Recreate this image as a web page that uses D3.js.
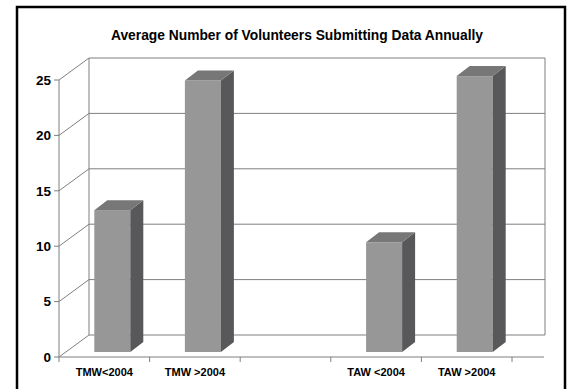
<!DOCTYPE html>
<html>
<head>
<meta charset="utf-8">
<script src="https://cdn.jsdelivr.net/npm/d3@7"></script>
<style>
  html, body { margin: 0; padding: 0; background: #fff; }
  svg { display: block; }
  text { font-family: "Liberation Sans", Arial, sans-serif; font-weight: bold; fill: #000; }
</style>
</head>
<body>
<svg id="chart" width="571" height="389"></svg>
<script>
// ---- data ----
const title = "Average Number of Volunteers Submitting Data Annually";
const categories = ["TMW<2004", "TMW >2004", " ", "TAW <2004", "TAW >2004"];
const values = [12.8, 24.5, null, 9.9, 24.9];
const yTicks = [0, 5, 10, 15, 20, 25];

// ---- layout ----
const x0 = 59, x1 = 512, xAxisEnd = 544;
const yFront0 = 357, yFront25 = 80;
const depthX = 30, depthY = -22;          // back wall offset
const barW = 36;
const barFrontOff = [8, -5];              // bar front plane offset from front axis
const barDepth = [13, -10];               // bar's own depth

const svg = d3.select("#chart");

// outer border
svg.append("rect").attr("x", 17).attr("y", 7).attr("width", 548).attr("height", 390)
  .attr("fill", "#fff").attr("stroke", "#000").attr("stroke-width", 2.5);

const x = d3.scaleBand().domain(categories).range([x0, x1]).paddingInner(0).paddingOuter(0);
const y = d3.scaleLinear().domain([0, 25]).range([yFront0, yFront25]);

const gridColor = "#7f7f7f";

// back wall gridlines
const g = svg.append("g");
g.selectAll("line.grid").data(yTicks).join("line")
  .attr("x1", x0 + depthX).attr("x2", xAxisEnd + 1)
  .attr("y1", d => y(d) + depthY).attr("y2", d => y(d) + depthY)
  .attr("stroke", gridColor).attr("stroke-width", 1);

// side wall diagonals
g.selectAll("line.diag").data(yTicks).join("line")
  .attr("x1", x0).attr("y1", d => y(d))
  .attr("x2", x0 + depthX).attr("y2", d => y(d) + depthY)
  .attr("stroke", gridColor).attr("stroke-width", 1);

// back wall left & right edges
g.append("line").attr("x1", x0 + depthX).attr("x2", x0 + depthX)
  .attr("y1", y(25) + depthY).attr("y2", y(0) + depthY).attr("stroke", gridColor);
g.append("line").attr("x1", xAxisEnd + 1).attr("x2", xAxisEnd + 1)
  .attr("y1", y(25) + depthY).attr("y2", y(0) + depthY).attr("stroke", gridColor);

// front value axis
g.append("line").attr("x1", x0).attr("x2", x0).attr("y1", y(0) + 5).attr("y2", y(25))
  .attr("stroke", gridColor);
g.selectAll("line.ytick").data(yTicks).join("line")
  .attr("x1", x0 - 5).attr("x2", x0).attr("y1", d => y(d)).attr("y2", d => y(d))
  .attr("stroke", gridColor);
g.selectAll("text.ylab").data(yTicks).join("text")
  .attr("x", x0 - 8).attr("y", d => y(d)).attr("dy", "0.36em")
  .attr("text-anchor", "end").attr("font-size", 13.5).text(d => d);

// front category axis
g.append("line").attr("x1", x0).attr("x2", xAxisEnd).attr("y1", y(0)).attr("y2", y(0))
  .attr("stroke", gridColor);
const bounds = categories.map(c => x(c) + x.bandwidth());
g.selectAll("line.xtick").data(bounds).join("line")
  .attr("x1", d => d).attr("x2", d => d).attr("y1", y(0)).attr("y2", y(0) + 5)
  .attr("stroke", gridColor);
g.selectAll("text.xlab").data(categories).join("text")
  .attr("x", d => x(d) + x.bandwidth() / 2).attr("y", y(0) + 19)
  .attr("text-anchor", "middle").attr("font-size", 11).text(d => d.trim());

// bars
const barData = categories.map((c, i) => ({ c, v: values[i] })).filter(d => d.v != null);
const bars = svg.append("g").selectAll("g").data(barData).join("g");
function fx(d) { return x(d.c) + (x.bandwidth() - barW) / 2 + barFrontOff[0]; }
function fy(v) { return y(v) + barFrontOff[1]; }
// front face
bars.append("rect")
  .attr("x", fx).attr("y", d => fy(d.v))
  .attr("width", barW).attr("height", d => fy(0) - fy(d.v))
  .attr("fill", "#979797");
// side face
bars.append("path")
  .attr("d", d => {
    const xr = fx(d) + barW, yt = fy(d.v), yb = fy(0);
    return `M${xr},${yt} L${xr + barDepth[0]},${yt + barDepth[1]} L${xr + barDepth[0]},${yb + barDepth[1]} L${xr},${yb} Z`;
  })
  .attr("fill", "#58585a");
// top face
bars.append("path")
  .attr("d", d => {
    const xl = fx(d), xr = xl + barW, yt = fy(d.v);
    return `M${xl},${yt} L${xl + barDepth[0]},${yt + barDepth[1]} L${xr + barDepth[0]},${yt + barDepth[1]} L${xr},${yt} Z`;
  })
  .attr("fill", "#777777");

// title
svg.append("text").attr("x", 297).attr("y", 40).attr("text-anchor", "middle")
  .attr("font-size", 13.8).text(title);
</script>
</body>
</html>
